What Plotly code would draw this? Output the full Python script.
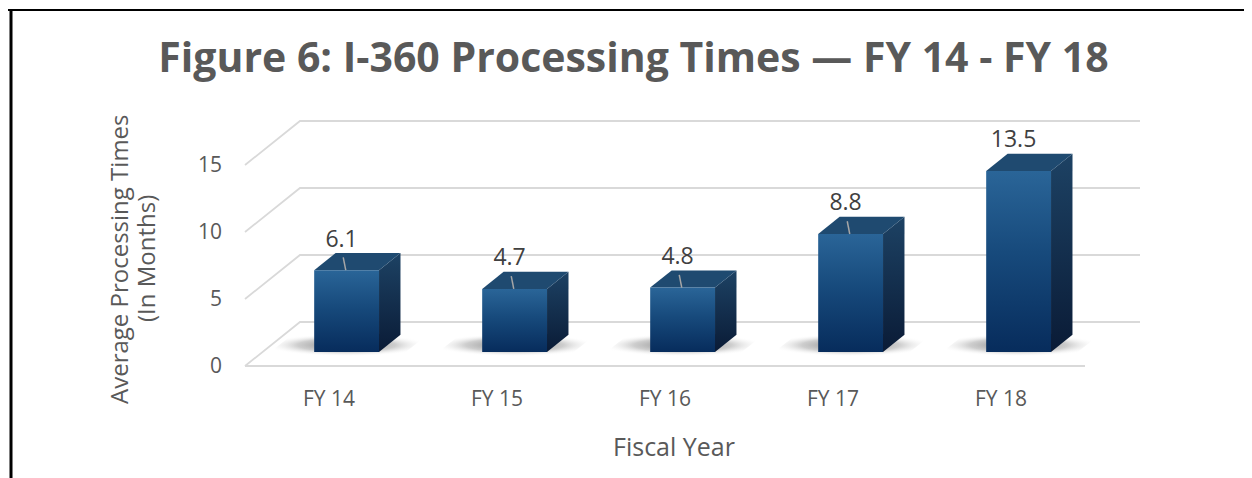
import plotly.graph_objects as go

# ---------------- data ----------------
categories = ["FY 14", "FY 15", "FY 16", "FY 17", "FY 18"]
values = [6.1, 4.7, 4.8, 8.8, 13.5]
value_labels = ["6.1", "4.7", "4.8", "8.8", "13.5"]
y_ticks = [0, 5, 10, 15]
title_text = "Figure 6: I-360 Processing Times \u2014 FY 14 - FY 18"
x_title = "Fiscal Year"
y_title_lines = ["Average Processing Times", "(In Months)"]

# ---------------- layout geometry (page has an 8px body margin) ----------------
OFF = 8
W, H = 1252 - OFF, 478 - OFF
BACK_LEFT_PX = 300 - OFF      # left end of back wall
ZERO_PX = 322 - OFF           # y pixel of value 0 on the back wall
ML = 236 - OFF
MT = 110 - OFF
MR = W - (1146 - OFF)
MB = H - (372 - OFF)

# ---------------- pseudo-3D projection (oblique) ----------------
PX_X = 168.0          # px per category unit
PX_Y = 13.4           # px per value unit
DX = -55.0 / PX_X     # x shift (axis units) at full depth (front floor edge)
DY = -44.0 / PX_Y     # y shift (axis units) at full depth
D_FRONT, D_BACK = 0.68, 0.29
HALF = 0.193
FLOOR_L, FLOOR_R = -0.5, 4.5

plot_w = W - ML - MR
plot_h = H - MT - MB
x_left = FLOOR_L - (BACK_LEFT_PX - ML) / PX_X
x_range = [x_left, x_left + plot_w / PX_X]
y_bottom = -(MT + plot_h - ZERO_PX) / PX_Y
y_range = [y_bottom, y_bottom + plot_h / PX_Y]


def proj(x, y, d):
    return x + d * DX, y + d * DY


def px_to_paper(px, py):
    """page pixel (reference coords) -> paper coords"""
    return (px - OFF - ML) / plot_w, 1 - (py - OFF - MT) / plot_h


GRID = "#d9d9d9"
TEXT = "#595959"
FONT = "Open Sans"

fig = go.Figure()

# gridlines on back wall + diagonals on side wall
for t in y_ticks:
    xs = [FLOOR_L + DX, FLOOR_L, FLOOR_R]
    ys = [t + DY, t, t]
    fig.add_trace(go.Scatter(x=xs, y=ys, mode="lines",
                             line=dict(color=GRID, width=1.8),
                             hoverinfo="skip", showlegend=False))
# front floor edge
fx0, fy0 = proj(FLOOR_L, 0, 1)
fx1, fy1 = proj(FLOOR_R, 0, 1)
fig.add_trace(go.Scatter(x=[fx0, fx1], y=[fy0, fy1], mode="lines",
                         line=dict(color=GRID, width=1.8),
                         hoverinfo="skip", showlegend=False))


def poly(pts, **kw):
    xs = [p[0] for p in pts] + [pts[0][0]]
    ys = [p[1] for p in pts] + [pts[0][1]]
    fig.add_trace(go.Scatter(x=xs, y=ys, mode="lines", fill="toself",
                             line=dict(width=0), hoverinfo="skip",
                             showlegend=False, **kw))


LEADER = [True, True, True, True, False]

for i, v in enumerate(values):
    xl, xr = i - HALF, i + HALF
    # floor shadow
    sh = [proj(xl - 0.26, 0, D_FRONT + 0.1), proj(xr + 0.16, 0, D_FRONT + 0.1),
          proj(xr + 0.16, 0, D_BACK - 0.02), proj(xl - 0.26, 0, D_BACK - 0.02)]
    poly(sh, fillgradient=dict(type="radial",
                               colorscale=[[0, "rgba(30,30,30,0.6)"],
                                           [0.6, "rgba(80,80,80,0.28)"],
                                           [1, "rgba(255,255,255,0)"]]))
    # right side face
    side = [proj(xr, 0, D_FRONT), proj(xr, 0, D_BACK), proj(xr, v, D_BACK), proj(xr, v, D_FRONT)]
    poly(side, fillgradient=dict(type="vertical",
                                 colorscale=[[0, "#0a1b36"], [1, "#1d4264"]]))
    # top face
    top = [proj(xl, v, D_FRONT), proj(xr, v, D_FRONT), proj(xr, v, D_BACK), proj(xl, v, D_BACK)]
    poly(top, fillcolor="#1f4a70")
    # front face
    front = [proj(xl, 0, D_FRONT), proj(xr, 0, D_FRONT), proj(xr, v, D_FRONT), proj(xl, v, D_FRONT)]
    poly(front, fillgradient=dict(type="vertical",
                                  colorscale=[[0, "#072c5c"], [0.55, "#174a7c"], [1, "#2a6598"]]))
    # leader line
    cx, cy = proj(i, v, D_FRONT)
    if LEADER[i]:
        fig.add_trace(go.Scatter(x=[cx - 0.02, cx - 0.005], y=[cy + 0.95, cy], mode="lines",
                                 line=dict(color="#a6a6a6", width=1.5),
                                 hoverinfo="skip", showlegend=False))
    # value label
    lx, ly = proj(i, v, D_BACK)
    fig.add_trace(go.Scatter(x=[cx - 0.03], y=[ly + 0.05], mode="text",
                             text=[value_labels[i]], textposition="top center",
                             textfont=dict(family=FONT, size=23, color="#404040"),
                             hoverinfo="skip", showlegend=False, cliponaxis=False))

# axis titles as annotations (positioned like the original)
annotations = []
ax, ay = px_to_paper(674, 446)
annotations.append(dict(text=x_title, xref="paper", yref="paper", x=ax, y=ay,
                        xanchor="center", yanchor="middle", showarrow=False,
                        font=dict(family=FONT, size=25, color=TEXT)))
for line_text, lx_px in zip(y_title_lines, [118, 145]):
    px_, py_ = px_to_paper(lx_px, 259)
    annotations.append(dict(text=line_text, xref="paper", yref="paper", x=px_, y=py_,
                            xanchor="center", yanchor="middle", showarrow=False,
                            textangle=-90,
                            font=dict(family=FONT, size=24, color=TEXT)))

fig.update_layout(
    width=W, height=H, autosize=False,
    margin=dict(l=ML, r=MR, t=MT, b=MB),
    paper_bgcolor="white", plot_bgcolor="white",
    title=dict(text="<b>" + title_text + "</b>", x=(633.5 - OFF) / W, xanchor="center",
               yref="container", y=1 - (58 - OFF) / H, yanchor="middle",
               font=dict(family=FONT, size=41, color=TEXT)),
    xaxis=dict(range=x_range, showgrid=False, zeroline=False, showline=False,
               tickvals=[i + DX for i in range(len(categories))], ticktext=categories,
               ticks="", ticklabelstandoff=12,
               tickfont=dict(family=FONT, size=21, color=TEXT),
               automargin=False, fixedrange=True),
    yaxis=dict(range=y_range, showgrid=False, zeroline=False, showline=False,
               tickvals=[t + DY for t in y_ticks], ticktext=[str(t) for t in y_ticks],
               ticks="", ticklabelstandoff=13,
               tickfont=dict(family=FONT, size=21, color=TEXT),
               automargin=False, fixedrange=True),
    annotations=annotations,
    shapes=[
        dict(type="line", xref="paper", yref="paper",
             x0=-ML / plot_w, x1=(plot_w + MR) / plot_w,
             y0=(plot_h + MT - (10 - OFF)) / plot_h, y1=(plot_h + MT - (10 - OFF)) / plot_h,
             line=dict(color="black", width=2)),
        dict(type="line", xref="paper", yref="paper",
             x0=-(ML - (11 - OFF)) / plot_w, x1=-(ML - (11 - OFF)) / plot_w,
             y0=(plot_h + MT - (10 - OFF)) / plot_h, y1=-MB / plot_h,
             line=dict(color="black", width=3)),
    ],
)

fig.write_html("out.html")
